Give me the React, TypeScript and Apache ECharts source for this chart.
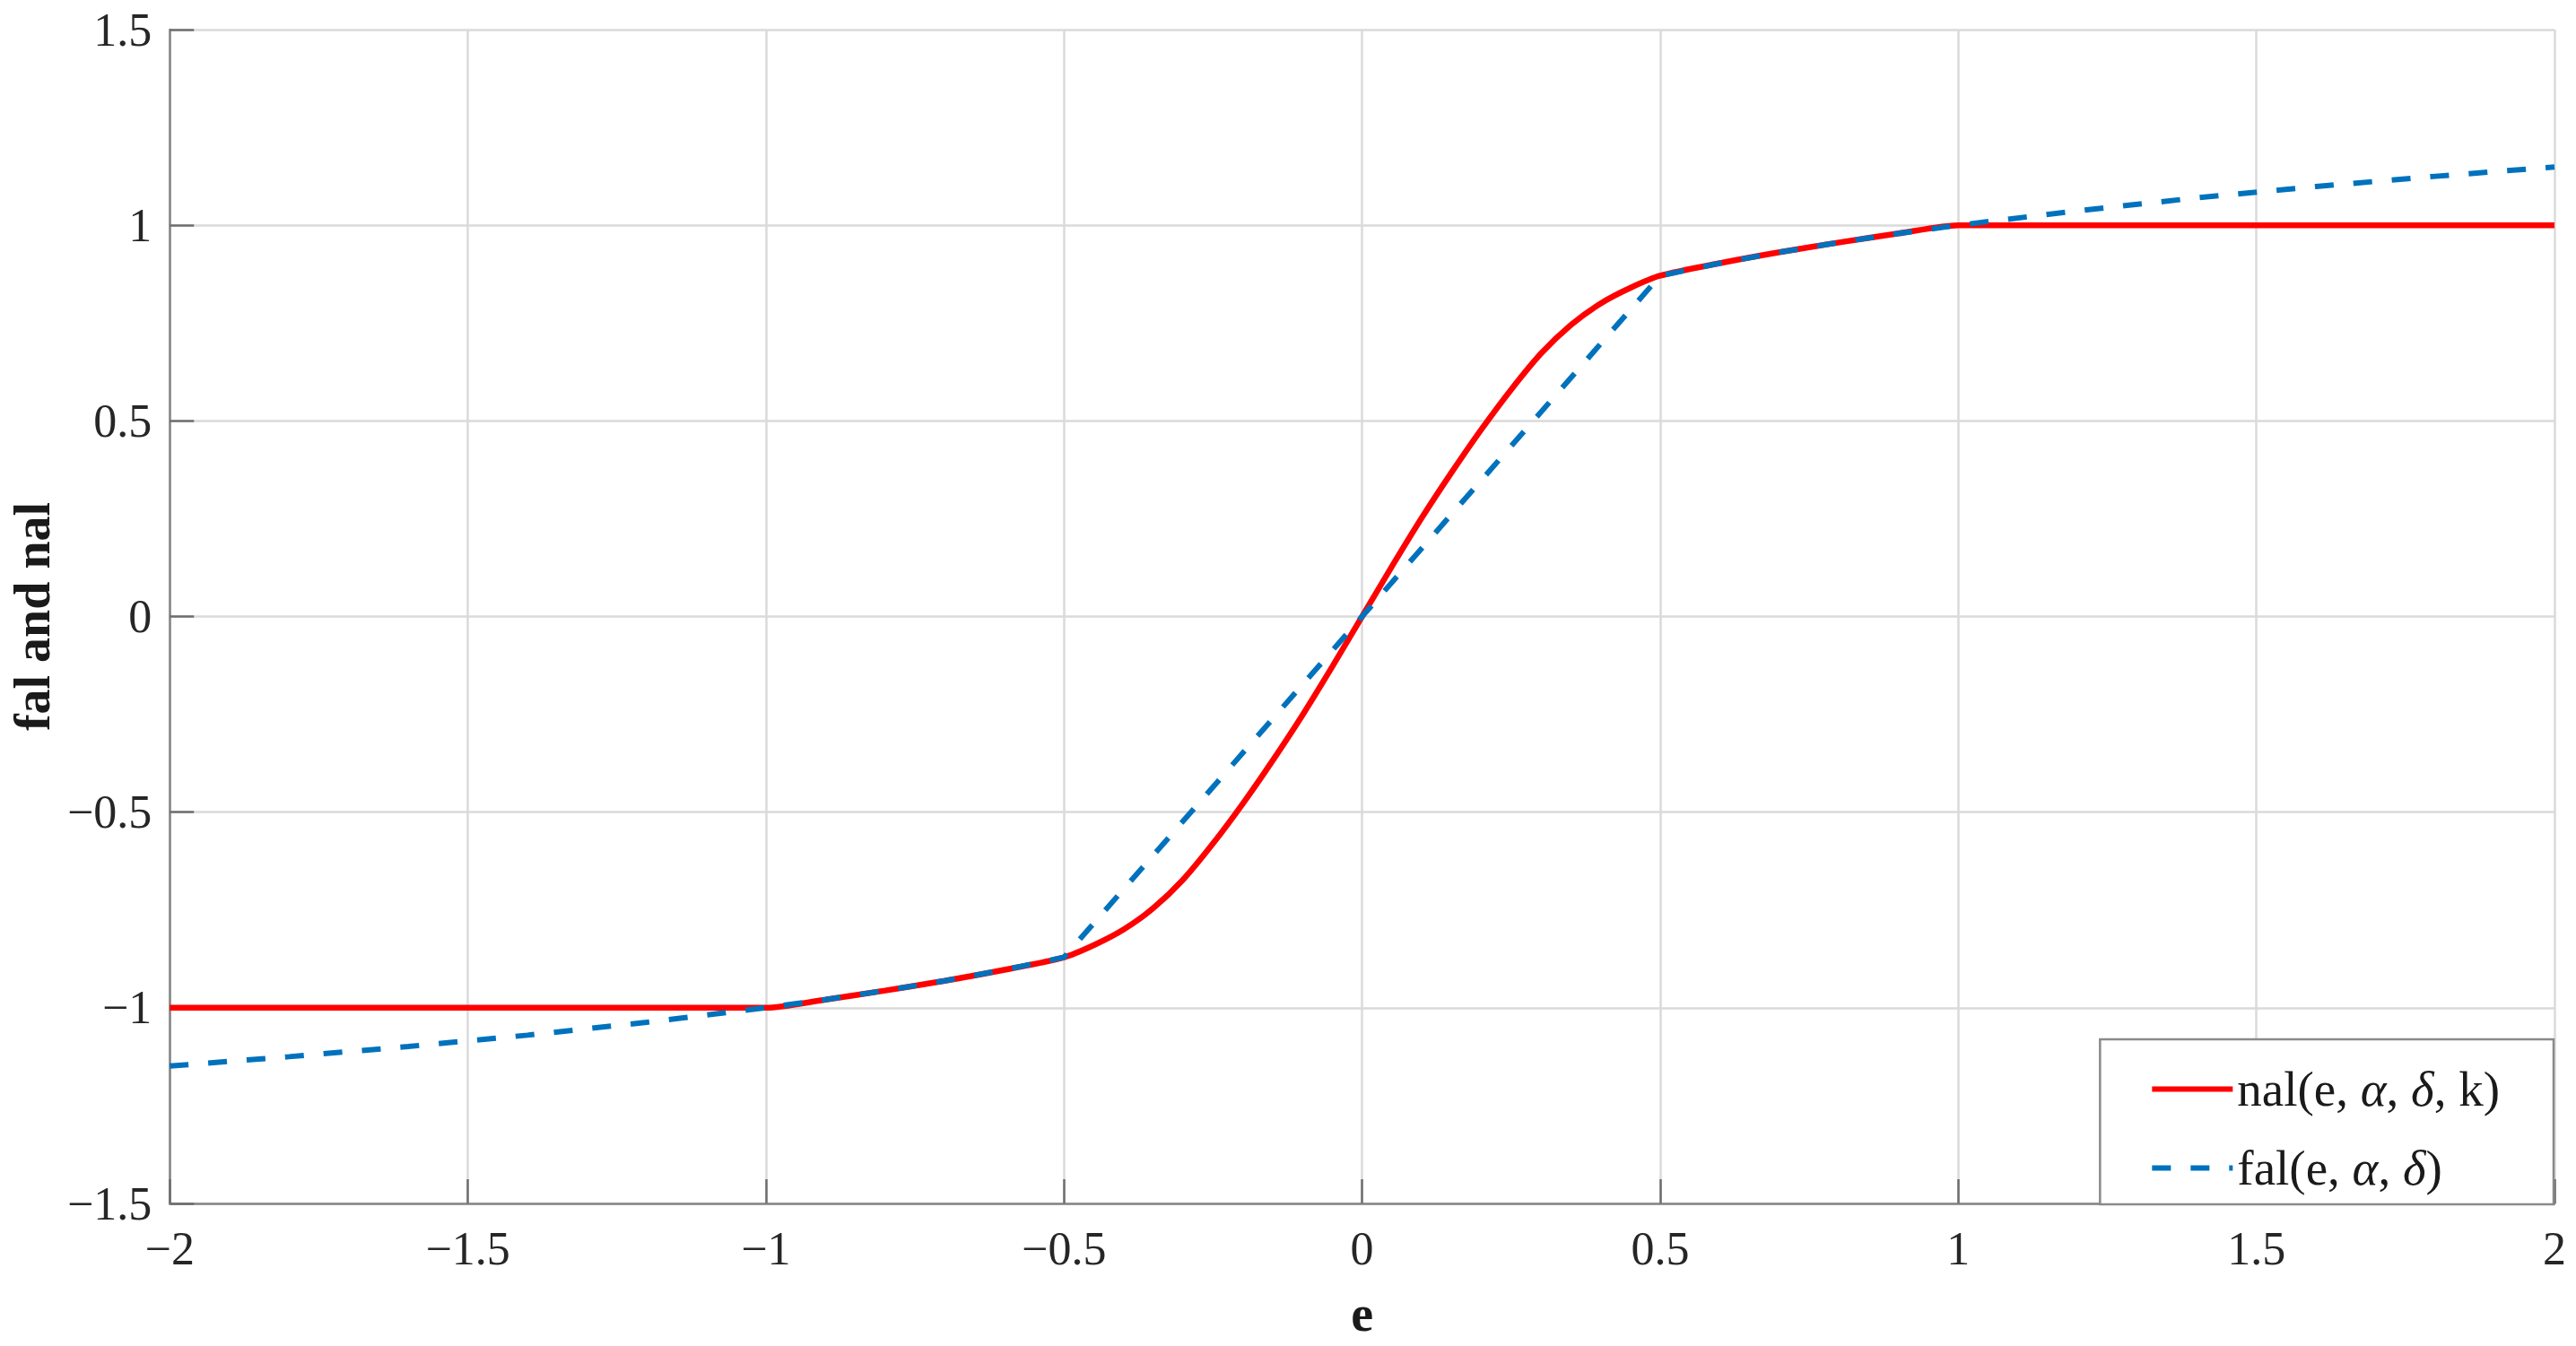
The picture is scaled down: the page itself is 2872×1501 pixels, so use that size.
import React, { useEffect, useRef } from "react";
import * as echarts from "echarts";

// nal(e, α, δ, k)
const nalE = [-2, -1, -0.9, -0.8, -0.7, -0.6, -0.5, -0.45, -0.4, -0.35, -0.3, -0.25, -0.2, -0.15, -0.1, -0.05, 0, 0.05, 0.1, 0.15, 0.2, 0.25, 0.3, 0.35, 0.4, 0.45, 0.5, 0.6, 0.7, 0.8, 0.9, 1, 2];
const nalV = [-1, -1, -0.979, -0.956, -0.931, -0.903, -0.871, -0.84, -0.8, -0.745, -0.672, -0.58, -0.478, -0.368, -0.252, -0.128, 0, 0.128, 0.252, 0.368, 0.478, 0.58, 0.672, 0.745, 0.8, 0.84, 0.871, 0.903, 0.931, 0.956, 0.979, 1, 1];

// fal(e, α, δ)
const falE = [-2, -1.8, -1.6, -1.4, -1.2, -1, -0.9, -0.8, -0.7, -0.6, -0.5, 0, 0.5, 0.6, 0.7, 0.8, 0.9, 1, 1.2, 1.4, 1.6, 1.8, 2];
const falV = [-1.149, -1.125, -1.099, -1.07, -1.037, -1, -0.979, -0.956, -0.931, -0.903, -0.871, 0, 0.871, 0.903, 0.931, 0.956, 0.979, 1, 1.037, 1.07, 1.099, 1.125, 1.149];

const xTicks = { min: -2, max: 2, interval: 0.5 };
const yTicks = { min: -1.5, max: 1.5, interval: 0.5 };

const FONT = "'Liberation Serif', 'Times New Roman', serif";

const fmt = (v: number) => {
  const s = String(Math.round(v * 100) / 100);
  return s.replace("-", "\u2212");
};

export default function App() {
  const ref = useRef<HTMLDivElement>(null);
  useEffect(() => {
    document.body.style.margin = "0";
    const chart = echarts.init(ref.current!, undefined, { renderer: "svg" });
    const axisCommon = {
      type: "value",
      axisLine: { show: true, onZero: false, lineStyle: { color: "#858585", width: 2.5 } },
      axisTick: { show: true, inside: true, length: 27, lineStyle: { color: "#6e6e6e", width: 2.5 } },
      splitLine: { show: true, lineStyle: { color: "#dadada", width: 2.5 } },
      axisLabel: {
        color: "#262626",
        fontFamily: FONT,
        fontSize: 52,
        formatter: fmt,
        showMinLabel: true,
        showMaxLabel: true,
      },
      nameTextStyle: { color: "#1a1a1a", fontFamily: FONT, fontSize: 56, fontWeight: "bold" },
    };
    chart.setOption({
      animation: false,
      backgroundColor: "#ffffff",
      grid: { left: 177, right: 24, top: 33, bottom: 159, containLabel: false },
      xAxis: {
        ...axisCommon,
        ...xTicks,
        name: "e",
        nameLocation: "middle",
        nameGap: 95,
        axisLabel: { ...axisCommon.axisLabel, margin: 24 },
      },
      yAxis: {
        ...axisCommon,
        ...yTicks,
        name: "fal and nal",
        nameLocation: "middle",
        nameGap: 112,
        axisLabel: { ...axisCommon.axisLabel, margin: 20 },
      },
      legend: {
        orient: "vertical",
        right: 25,
        bottom: 158,
        backgroundColor: "#ffffff",
        borderColor: "#8a8a8a",
        borderWidth: 2.5,
        borderRadius: 0,
        padding: [28, 60, 13, 55],
        itemGap: 33,
        itemWidth: 90,
        itemHeight: 4,
        itemStyle: { opacity: 0, borderWidth: 0 },
        lineStyle: { width: 6 },
        textStyle: {
          color: "#1a1a1a",
          fontFamily: FONT,
          fontSize: 55,
          rich: {
            i: { fontFamily: FONT, fontSize: 55, fontStyle: "italic", color: "#1a1a1a" },
          },
        },
        formatter: (name: string) =>
          name === "nal"
            ? "nal(e, {i|\u03b1}, {i|\u03b4}, k)"
            : "fal(e, {i|\u03b1}, {i|\u03b4})",
        data: ["nal", "fal"],
      },
      series: [
        {
          name: "nal",
          type: "line",
          data: nalE.map((e, i) => [e, nalV[i]]),
          showSymbol: false,
          symbol: "none",
          smooth: 0.25,
          lineStyle: { color: "#ff0000", width: 6.5 },
          itemStyle: { color: "#ff0000" },
          z: 2,
        },
        {
          name: "fal",
          type: "line",
          data: falE.map((e, i) => [e, falV[i]]),
          showSymbol: false,
          symbol: "none",
          lineStyle: { color: "#0072bd", width: 6, type: [21, 22] },
          itemStyle: { color: "#0072bd" },
          z: 3,
        },
      ],
    });
    return () => chart.dispose();
  }, []);
  return <div ref={ref} style={{ position: "absolute", left: 0, top: 0, width: 2872, height: 1501 }} />;
}
